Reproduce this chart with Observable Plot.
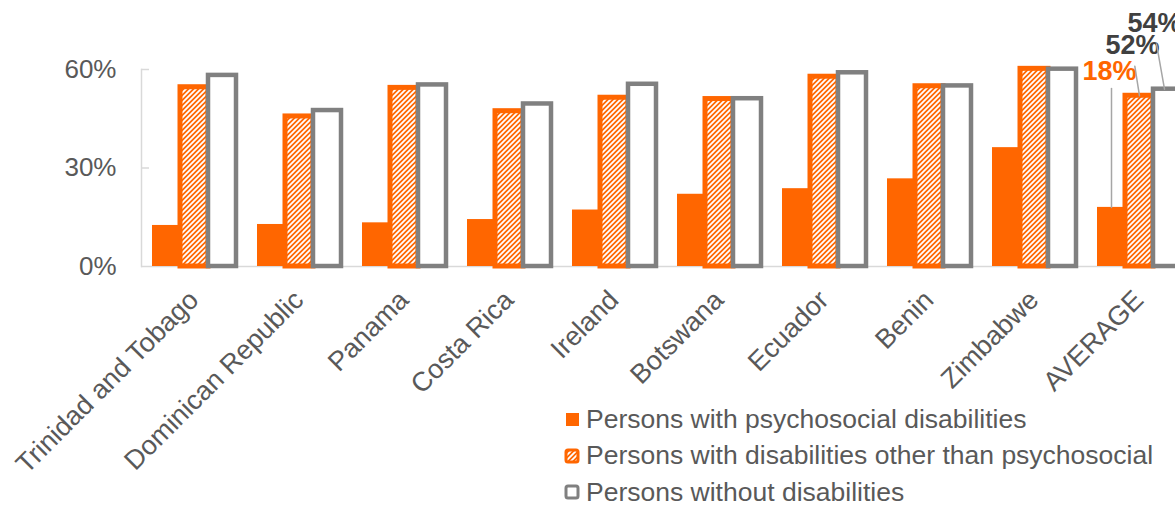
<!DOCTYPE html>
<html><head><meta charset="utf-8">
<script src="https://cdn.jsdelivr.net/npm/d3@7"></script>
<script src="https://cdn.jsdelivr.net/npm/@observablehq/plot@0.6"></script>
<style>
body{margin:0;background:#fff;font-family:"Liberation Sans",Arial,sans-serif;}
#wrap{position:relative;width:1175px;height:506px;overflow:hidden;}
#legend{position:absolute;left:564px;top:401px;font-size:26.5px;color:#595959;}
.item{display:flex;align-items:center;height:36.5px;white-space:nowrap;}
.item svg{margin-right:6px;flex:none;}
</style></head><body>
<div id="wrap"><div id="chart"></div><div id="legend"></div></div>
<script>
const countries = ["Trinidad and Tobago","Dominican Republic","Panama","Costa Rica","Ireland","Botswana","Ecuador","Benin","Zimbabwe","AVERAGE"];
const seriesNames = ["Persons with psychosocial disabilities","Persons with disabilities other than psychosocial","Persons without disabilities"];
const psychosocial = [12.5,12.8,13.3,14.3,17.2,22,23.7,26.7,36.2,18];
const otherDisab   = [54.6,45.7,54.4,47.3,51.4,51,57.8,54.9,60.2,52];
const noDisab      = [58.2,47.5,55.3,49.5,55.5,51.1,59,55,60.1,54];
const yTicks = [0,30,60];
const highlightCountry = "AVERAGE";

// styles (not data)
const ORANGE = "#FF6600", GRAY = "#808080", TXT = "#595959", AXIS = "#d9d9d9";
const callouts = [
  {dx:-2, dy:-136, len:119, rot:0,   color:ORANGE},
  {dx:-7, dy:-50,  len:30,  rot:-9,  color:"#404040"},
  {dx:-13,dy:-66,  len:46,  rot:-10, color:"#404040", vdx:-3}
];

const seriesValues = [psychosocial, otherDisab, noDisab];
const rows = [];
countries.forEach((c,i)=>seriesNames.forEach((s,j)=>rows.push({country:c, series:s, value:seriesValues[j][i]})));
const bySeries = j => rows.filter(d=>d.series===seriesNames[j]);
const avgOf = j => rows.filter(d=>d.series===seriesNames[j] && d.country===highlightCountry);
const lineShape = {draw(ctx, l){ ctx.moveTo(0,0); ctx.lineTo(0,-l); }};

const marks = [
  Plot.ruleY([0], {stroke:AXIS, strokeWidth:1.5}),
  Plot.barY(bySeries(0), {fx:"country", x:"series", y:"value", fill:ORANGE}),
  Plot.barY(bySeries(1), {fx:"country", x:"series", y:"value", fill:"url(#hatch)", stroke:ORANGE, strokeWidth:5}),
  Plot.barY(bySeries(2), {fx:"country", x:"series", y:"value", fill:"white", stroke:GRAY, strokeWidth:4.5}),
  Plot.frame({anchor:"left", facetAnchor:"left", stroke:AXIS, strokeWidth:1.5}),
  Plot.axisY({ticks:yTicks.slice(1), tickSize:8, dx:8, text:null, stroke:AXIS, strokeWidth:1.5}),
  Plot.axisY({ticks:yTicks, tickSize:0, tickPadding:25, tickFormat:d=>d+"%", fontSize:26, fill:TXT, label:null}),
  Plot.axisFx({anchor:"bottom", tickSize:0, tickRotate:-45, tickPadding:29, fontSize:27, fill:TXT, label:null})
];
callouts.forEach((c,j)=>{
  marks.push(Plot.vector(avgOf(j), {fx:"country", x:"series", y:"value", length:c.len, rotate:c.rot, anchor:"start", shape:lineShape, stroke:"#a6a6a6", strokeWidth:1.5, dx:c.vdx||0}));
  marks.push(Plot.text(avgOf(j), {fx:"country", x:"series", y:"value", text:d=>d.value+"%", dx:c.dx, dy:c.dy, fill:c.color, fontSize:27, fontWeight:"bold"}));
});

const chart = Plot.plot({
  width:1191, height:506,
  marginLeft:141, marginRight:0, marginTop:69, marginBottom:240,
  style:{fontFamily:"Liberation Sans, Arial, sans-serif", background:"white", overflow:"visible", maxWidth:"none"},
  fx:{domain:countries, padding:0, paddingInner:0, paddingOuter:0, label:null},
  x:{domain:seriesNames, paddingInner:0, paddingOuter:0.353, axis:null},
  y:{domain:[0,60], label:null},
  marks
});
chart.style.maxWidth = "none";
d3.select(chart).insert("defs", ":first-child").html(
  `<pattern id="hatch" patternUnits="userSpaceOnUse" width="5" height="5"><rect width="5" height="5" fill="${ORANGE}"/><path d="M-1,1 l2,-2 M0,5 l5,-5 M4,6 l2,-2" stroke="#fff" stroke-width="1.8"/></pattern>`);
document.getElementById("chart").appendChild(chart);

// legend
const swatches = [
  `<svg width="16" height="16"><rect x="2" y="2" width="13" height="13" fill="${ORANGE}"/></svg>`,
  `<svg width="16" height="16"><rect x="2" y="2" width="12" height="12" rx="2" fill="url(#hatch)" stroke="${ORANGE}" stroke-width="3"/></svg>`,
  `<svg width="16" height="16"><rect x="2" y="2" width="12" height="12" rx="2" fill="white" stroke="${GRAY}" stroke-width="3"/></svg>`
];
const leg = d3.select("#legend");
seriesNames.forEach((s,j)=>{
  const it = leg.append("div").attr("class","item");
  it.html(swatches[j]);
  it.append("span").text(s);
});
</script>
</body></html>
